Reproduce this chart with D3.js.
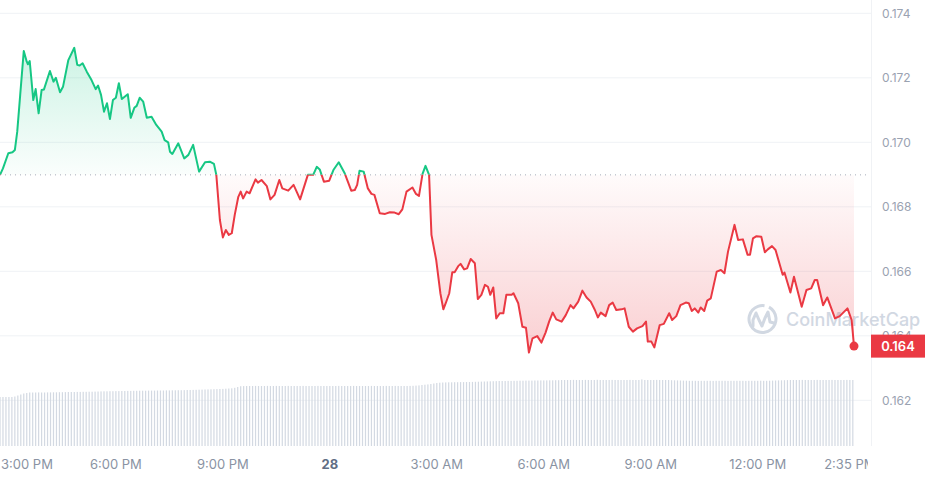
<!DOCTYPE html>
<html><head><meta charset="utf-8">
<script src="https://cdn.jsdelivr.net/npm/d3@7"></script>
<style>html,body{margin:0;padding:0;background:#fff;overflow:hidden}svg{display:block;font-family:Inter,"Noto Sans",sans-serif}</style>
</head><body><svg id="chart" width="928" height="477"></svg>
<script>
// minutes after 3:00 PM on the 27th
const minutes = [-15,-10,-1,6,10,14,19,25,30,32,35,41,45,50,55,59,69,75,79,86,91,100,110,115,119,124,131,139,146,150,155,160,165,170,175,180,185,190,200,205,211,215,220,226,232,240,248,257,262,268,271,275,285,295,302,310,320,330,338,345,349,355,360,365,370,375,380,386,390,394,400,405,415,419,425,434,440,447,455,460,470,479,490,503,512,518,523,530,539,546,555,565,576,582,586,590,597,604,610,615,624,633,641,649,656,662,669,679,685,690,696,701,707,711,719,726,731,735,741,746,750,756,760,766,771,777,784,789,795,801,806,810,815,820,826,832,837,846,849,857,864,870,875,881,889,896,903,909,915,921,930,937,945,950,958,965,972,979,986,991,996,1004,1010,1016,1022,1031,1036,1043,1050,1057,1066,1072,1075,1081,1086,1095,1102,1111,1116,1123,1130,1139,1144,1149,1154,1160,1164,1170,1175,1181,1191,1198,1204,1210,1221,1227,1235,1243,1247,1252,1258,1266,1272,1277,1284,1290,1302,1305,1315,1321,1334,1342,1350,1356,1360,1370,1377,1390,1398,1411,1418,1422];
const prices = [0.16899,0.16919,0.16966,0.16969,0.16976,0.17033,0.17147,0.17283,0.17250,0.17242,0.17252,0.17131,0.17165,0.17090,0.17162,0.17164,0.17221,0.17188,0.17200,0.17155,0.17172,0.17255,0.17293,0.17240,0.17238,0.17245,0.17219,0.17193,0.17165,0.17176,0.17147,0.17095,0.17121,0.17072,0.17131,0.17138,0.17183,0.17134,0.17149,0.17076,0.17107,0.17113,0.17138,0.17126,0.17076,0.17079,0.17054,0.17033,0.17007,0.17000,0.16971,0.16964,0.16997,0.16950,0.16961,0.16992,0.16909,0.16938,0.16940,0.16933,0.16899,0.16759,0.16705,0.16728,0.16713,0.16718,0.16775,0.16831,0.16847,0.16826,0.16847,0.16842,0.16885,0.16875,0.16883,0.16864,0.16823,0.16837,0.16883,0.16857,0.16850,0.16868,0.16823,0.16899,0.16899,0.16924,0.16916,0.16878,0.16881,0.16914,0.16938,0.16904,0.16850,0.16852,0.16868,0.16912,0.16909,0.16857,0.16840,0.16837,0.16780,0.16778,0.16783,0.16782,0.16777,0.16792,0.16847,0.16860,0.16840,0.16834,0.16902,0.16927,0.16899,0.16713,0.16635,0.16532,0.16482,0.16501,0.16532,0.16597,0.16597,0.16616,0.16623,0.16606,0.16609,0.16638,0.16625,0.16514,0.16527,0.16558,0.16552,0.16527,0.16550,0.16454,0.16470,0.16470,0.16527,0.16527,0.16532,0.16501,0.16428,0.16425,0.16348,0.16392,0.16399,0.16379,0.16410,0.16444,0.16472,0.16451,0.16444,0.16464,0.16495,0.16485,0.16506,0.16540,0.16519,0.16506,0.16480,0.16457,0.16472,0.16461,0.16495,0.16503,0.16480,0.16482,0.16485,0.16428,0.16413,0.16423,0.16430,0.16444,0.16382,0.16382,0.16364,0.16433,0.16437,0.16470,0.16449,0.16461,0.16495,0.16503,0.16501,0.16477,0.16485,0.16472,0.16488,0.16477,0.16509,0.16516,0.16599,0.16604,0.16594,0.16661,0.16744,0.16697,0.16699,0.16651,0.16651,0.16702,0.16709,0.16707,0.16659,0.16668,0.16678,0.16666,0.16589,0.16596,0.16534,0.16583,0.16490,0.16542,0.16547,0.16573,0.16573,0.16495,0.16519,0.16454,0.16461,0.16485,0.16449,0.16368];
const referencePrice = 0.16899;
// volume bars, one every 5 minutes from 2:45 PM
const volumeStart = -15, volumeStep = 5;
const volumes = [49,49,49,49,49,49.5,50.5,51.5,52.5,53,53.5,
53.5,53.5,53.6,53.5,53.5,53.6,53.6,53.7,53.7,53.8,53.8,53.9,
54,54,54,54.1,54.1,54.2,54.2,54.3,54.3,54.4,54.5,
54.6,54.7,54.7,54.8,54.8,54.9,54.9,55,55,55.1,55.1,
55.2,55.2,55.3,55.3,55.3,55.4,55.4,55.4,55.5,55.5,55.5,55.6,55.6,55.7,55.7,55.8,55.8,55.9,56,56,56.1,56.2,56.3,
56.4,56.5,56.6,56.7,56.8,56.9,57,57.1,57.3,57.5,57.7,58.2,59,
59.8,59.9,60,60,60,60.1,60,60,60,60.1,
60,60,60.1,60,60,60,60.1,60,60,60,
60,60.1,60,60,60,60,60.1,60,60,60,
60,60,60,60.1,60,60,60,60,60.1,60,
60,60,60,60,60.1,60,60,60,60,60.1,
60,60,60.1,60,60,60,60,60.1,60.2,60.4,60.6,
61,61.3,61.6,62,62.5,
63,63.3,63.5,63.6,63.7,63.7,63.8,63.8,63.9,63.9,64,64,64.1,64.2,64.3,64.4,64.5,64.6,64.7,64.8,64.9,
65,65,65,65.1,65.1,65.2,65.2,65.3,65.3,65.4,65.4,65.4,65.5,65.5,65.6,65.6,65.6,65.7,65.7,65.8,65.8,
66,66,66,66,66.1,66,66,66,66.1,66,66,66,66.2,66,66,66,66,66.1,66,66,66,66,
66,66.1,66,66,66,66.6,66,66,66,66,66.1,66,66,66,66,65.8,65.7,65.6,65.5,65.4,65.3,
65.2,65.2,65.2,65.1,65.2,65.2,65.2,65.2,65.1,65.2,65.2,65.2,65.2,65.1,65.2,65.2,65.2,
65.2,65.2,65.1,65.2,65.2,65.2,65.2,65.3,65.2,65.2,65.3,65.4,65.5,65.6,65.7,65.8,65.9,
66,66,66,66,66.1,66,66,66,66,66.1,66,66,66,66,66.1,66,66,66,66,66.1,66,66];
const priceTicks = [0.162,0.164,0.166,0.168,0.170,0.172,0.174];
const timeTicks = [0,180,360,540,720,900,1080,1260,1415];
const timeLabels = ["3:00 PM","6:00 PM","9:00 PM","28","3:00 AM","6:00 AM","9:00 AM","12:00 PM","2:35 PM"];

const svg = d3.select("#chart");
const plotRight = 871;
const x = d3.scaleLinear().domain([-15,1422]).range([0,854]);
const y = d3.scaleLinear().domain([0.162,0.174]).range([400.3,13.3]);
const vy = d3.scaleLinear().domain([0,80]).range([446,366]);
const yBase = y(referencePrice);
const data = minutes.map((m,i)=>({m, v:prices[i]}));
const green = "#16c784", red = "#ea3943";

const defs = svg.append("defs");
const gG = defs.append("linearGradient").attr("id","gG").attr("gradientUnits","userSpaceOnUse")
  .attr("x1",0).attr("x2",0).attr("y1",y(0.173)).attr("y2",yBase);
gG.append("stop").attr("offset",0).attr("stop-color",green).attr("stop-opacity",0.22);
gG.append("stop").attr("offset",1).attr("stop-color",green).attr("stop-opacity",0.02);
const gR = defs.append("linearGradient").attr("id","gR").attr("gradientUnits","userSpaceOnUse")
  .attr("x1",0).attr("x2",0).attr("y1",yBase).attr("y2",y(0.1635));
gR.append("stop").attr("offset",0).attr("stop-color",red).attr("stop-opacity",0.02);
gR.append("stop").attr("offset",1).attr("stop-color",red).attr("stop-opacity",0.24);
defs.append("clipPath").attr("id","cAbove").append("rect").attr("x",-5).attr("y",0).attr("width",900).attr("height",yBase);
defs.append("clipPath").attr("id","cBelow").append("rect").attr("x",-5).attr("y",yBase).attr("width",900).attr("height",477-yBase);
defs.append("clipPath").attr("id","cAxis").append("rect").attr("x",0).attr("y",440).attr("width",868).attr("height",40);

// grid
svg.append("g").selectAll("line").data(priceTicks).join("line")
  .attr("x1",0).attr("x2",plotRight).attr("y1",d=>y(d)).attr("y2",d=>y(d))
  .attr("stroke","#eff2f5").attr("stroke-width",1);
svg.append("line").attr("x1",plotRight+0.5).attr("x2",plotRight+0.5).attr("y1",0).attr("y2",446)
  .attr("stroke","#f0f2f5");

// volume bars
svg.append("g").selectAll("rect").data(volumes).join("rect")
  .attr("x",(d,i)=>x(volumeStart+volumeStep*i)-0.6).attr("width",1.2)
  .attr("y",d=>vy(d)).attr("height",d=>vy(0)-vy(d)).attr("fill","#d3d9e2");

// y-axis labels
svg.append("g").selectAll("text").data(priceTicks).join("text")
  .attr("x",882).attr("y",d=>y(d)).attr("dy","0.35em")
  .attr("font-size",12).attr("fill","#9aa2b1").text(d=>d.toFixed(3));

// watermark
const wm = svg.append("g").attr("opacity",0.9);
wm.append("path").attr("d",d3.arc()({innerRadius:12,outerRadius:15,startAngle:0.5,endAngle:2*Math.PI+0.15}))
  .attr("transform","translate(762.5,319)").attr("fill","#cdd4df");
wm.append("path").attr("d","M753,326 L753,320 L756,313 L759,320 L762,326 L765,318 L768,312 L770,322 L774,323")
  .attr("fill","none").attr("stroke","#cdd4df").attr("stroke-width",3).attr("stroke-linejoin","round").attr("stroke-linecap","round");
wm.append("text").attr("x",786).attr("y",326).attr("font-size",18).attr("font-weight",500)
  .attr("fill","#cdd4df").text("CoinMarketCap");

// areas
const area = d3.area().x(d=>x(d.m)).y0(yBase).y1(d=>y(d.v));
svg.append("path").datum(data).attr("d",area).attr("fill","url(#gG)").attr("clip-path","url(#cAbove)");
svg.append("path").datum(data).attr("d",area).attr("fill","url(#gR)").attr("clip-path","url(#cBelow)");

// baseline
svg.append("line").attr("x1",0).attr("x2",868).attr("y1",yBase).attr("y2",yBase)
  .attr("stroke","#a6adb9").attr("stroke-width",1).attr("stroke-dasharray","1,4");

// lines
const line = d3.line().x(d=>x(d.m)).y(d=>y(d.v));
svg.append("path").datum(data).attr("d",line).attr("fill","none").attr("stroke",green).attr("stroke-width",2)
  .attr("stroke-linejoin","round").attr("clip-path","url(#cAbove)");
svg.append("path").datum(data).attr("d",line).attr("fill","none").attr("stroke",red).attr("stroke-width",2)
  .attr("stroke-linejoin","round").attr("clip-path","url(#cBelow)");

// end dot
const last = data[data.length-1];
svg.append("circle").attr("cx",x(last.m)).attr("cy",y(last.v)).attr("r",4.5).attr("fill",red);

// price label
svg.append("rect").attr("x",871).attr("y",y(last.v)-11.5).attr("width",54).attr("height",23).attr("fill",red);
svg.append("text").attr("x",898).attr("y",y(last.v)).attr("dy","0.36em").attr("text-anchor","middle")
  .attr("font-size",13).attr("font-weight",600).attr("fill","#fff").text(last.v.toFixed(3));

// x-axis labels
svg.append("g").attr("clip-path","url(#cAxis)").selectAll("text").data(timeTicks).join("text")
  .attr("x",(d,i)=> i===0 ? 1 : x(d))
  .attr("text-anchor",(d,i)=> i===0 ? "start" : "middle")
  .attr("y",469).attr("font-size",13)
  .attr("font-weight",(d,i)=>timeLabels[i]==="28"?700:400)
  .attr("fill",(d,i)=>timeLabels[i]==="28"?"#616e85":"#8a93a3")
  .text((d,i)=>timeLabels[i]);
</script></body></html>
